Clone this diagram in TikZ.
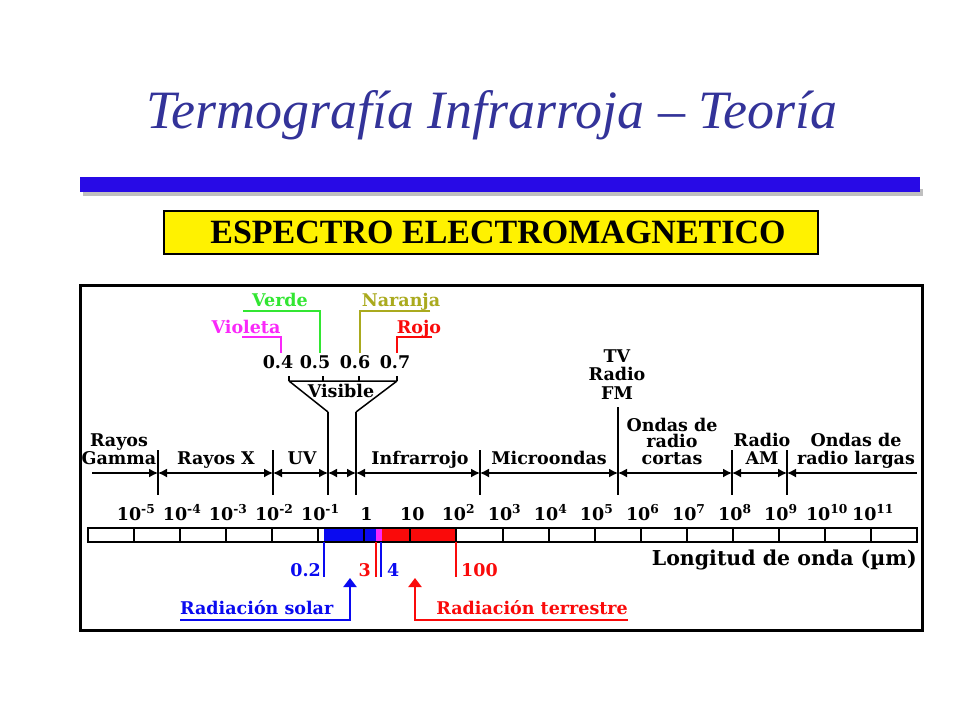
\documentclass[tikz,border=0pt]{standalone}
\usepackage{fontspec}
\setmainfont{Liberation Serif}
\newfontfamily\labfont{DejaVu Serif}
\usepackage{tikz}
\usetikzlibrary{arrows.meta}
\definecolor{titleblue}{RGB}{51,51,153}
\definecolor{barblue}{RGB}{40,10,230}
\definecolor{azul}{RGB}{10,10,240}
\definecolor{rojo}{RGB}{250,10,10}
\definecolor{verde}{RGB}{50,230,50}
\definecolor{naranja}{RGB}{170,170,30}
\definecolor{violeta}{RGB}{250,40,250}

\begin{document}
\begin{tikzpicture}[x=1pt,y=-1pt,>={Latex[length=9pt,width=9pt]},
lab/.style={inner sep=0pt,anchor=base,font=\labfont\bfseries\fontsize{17.5}{18}\selectfont},
tall/.style={lab,align=center,font=\labfont\bfseries\fontsize{17.5}{16.5}\selectfont},
thick line/.style={line width=2pt}]
\useasboundingbox (0,0) rectangle (960,720);
\fill[white] (0,0) rectangle (960,720);
% title and header
\node[inner sep=0pt,anchor=base,text=titleblue,font=\itshape\fontsize{54}{60}\selectfont] (T) at (492,128) {Termografía Infrarroja – Teoría};
\fill[black!25] (83,189) rectangle (923,196);
\fill[barblue] (80,177) rectangle (920,192);
\draw[thick line,fill=yellow] (164,211) rectangle (818,254);
\node[inner sep=0pt,anchor=base,font=\bfseries\fontsize{34}{36}\selectfont] (E) at (498,243) {ESPECTRO ELECTROMAGNETICO};
\draw[line width=3pt] (80,285) rectangle (922,630);

% scale bar
\fill[azul] (324,528) rectangle (376,542);
\fill[violeta] (376,528) rectangle (382,542);
\fill[rojo] (382,528) rectangle (457,542);
\draw[thick line] (88,528) rectangle (917,542);
\foreach \k in {1,...,17}
  \draw[thick line] (88+46.06*\k,528) -- (88+46.06*\k,542);
\foreach \t [count=\k] in {10\textsuperscript{-5},10\textsuperscript{-4},10\textsuperscript{-3},10\textsuperscript{-2},10\textsuperscript{-1},1,10,10\textsuperscript{2},10\textsuperscript{3},10\textsuperscript{4},10\textsuperscript{5},10\textsuperscript{6},10\textsuperscript{7},10\textsuperscript{8},10\textsuperscript{9},10\textsuperscript{10},10\textsuperscript{11}}
  \node[lab] (n\k) at (90+46.06*\k,520) {\t};
\node[lab,anchor=base east,font=\labfont\bfseries\fontsize{20.5}{22}\selectfont] (L) at (917,565) {Longitud de onda (µm)};

% ranges
\foreach \x/\t [count=\i] in {158/450,273/450,328/412,356/412,480/450,618/407,732/450,787/450} {
  \coordinate (u\i) at (\x,\t);
  \coordinate (v\i) at (\x,495);
  \coordinate (m\i) at (\x,473);
  \draw[thick line] (u\i) -- (v\i);
}
\coordinate (m0) at (92,473);
\coordinate (m9) at (917,473);
\path[line width=1.5pt]
(m0) edge[->] (m1)
(m1) edge[<->] (m2)
(m2) edge[<->] (m3)
(m3) edge[<->] (m4)
(m4) edge[<->] (m5)
(m5) edge[<->] (m6)
(m6) edge[<->] (m7)
(m7) edge[<->] (m8)
(m8) edge[<-] (m9);
\node[tall,font=\labfont\bfseries\fontsize{17.5}{18}\selectfont] (gam) at (119,464) {Rayos\\Gamma};
\node[lab] (X) at (216,464) {Rayos X};
\node[lab] (UV) at (302,464) {UV};
\node[lab] (IR) at (420,464) {Infrarrojo};
\node[lab] (MW) at (549,464) {Microondas};
\node[tall] (OC) at (672,464) {Ondas de\\radio\\cortas};
\node[tall,font=\labfont\bfseries\fontsize{17.5}{18}\selectfont] (AM) at (762,464) {Radio\\AM};
\node[tall,font=\labfont\bfseries\fontsize{17.5}{18}\selectfont] (OL) at (856,464) {Ondas de\\radio largas};
\node[tall,font=\labfont\bfseries\fontsize{17.5}{18.5}\selectfont] (TV) at (617,399) {TV\\Radio\\FM};

% visible
\coordinate (b1) at (289,381);
\coordinate (b4) at (397,381);
\draw[line width=1.5pt] (b1) -- (b4) (b1) -- (u3) (b4) -- (u4);
\foreach \x in {289,323,359,397}
  \draw[line width=1.5pt] (\x,376) -- (\x,381);
\node[lab] (vis) at (341,397) {Visible};
\foreach \x/\t [count=\i] in {278/0.4,315/0.5,355/0.6,395/0.7}
  \node[lab] (w\i) at (\x,368) {\t};
\node[lab,text=violeta] (vio) at (246,333) {Violeta};
\node[lab,text=verde] (ver) at (280,306) {Verde};
\node[lab,text=naranja] (nar) at (401,306) {Naranja};
\node[lab,text=rojo] (roj) at (419,333) {Rojo};
\coordinate (c1) at (242,337); \coordinate (d1) at (281,353);
\coordinate (c2) at (243,311); \coordinate (d2) at (320,353);
\coordinate (c3) at (430,311); \coordinate (d3) at (360,353);
\coordinate (c4) at (432,337); \coordinate (d4) at (397,353);
\draw[violeta,line width=1.5pt] (c1) -| (d1);
\draw[verde,line width=1.5pt] (c2) -| (d2);
\draw[naranja,line width=1.5pt] (c3) -| (d3);
\draw[rojo,line width=1.5pt] (c4) -| (d4);

% radiation limits
\coordinate (s1) at (324,542); \coordinate (t1) at (324,577);
\coordinate (s2) at (376,542); \coordinate (t2) at (376,577);
\coordinate (s3) at (381,542); \coordinate (t3) at (381,577);
\coordinate (s4) at (456,542); \coordinate (t4) at (456,577);
\draw[azul,line width=1.5pt] (s1) -- (t1) (s3) -- (t3);
\draw[rojo,line width=1.5pt] (s2) -- (t2) (s4) -- (t4);
\node[lab,anchor=base east,text=azul] (l02) at (321,576) {0.2};
\node[lab,anchor=base east,text=rojo] (l3) at (371,576) {3};
\node[lab,anchor=base west,text=azul] (l4) at (387,576) {4};
\node[lab,anchor=base west,text=rojo] (l100) at (461,576) {100};
\node[lab,anchor=base west,text=azul] (sol) at (180,614) {Radiación solar};
\node[lab,anchor=base east,text=rojo] (ter) at (628,614) {Radiación terrestre};
\coordinate (a1) at (180,620); \coordinate (a2) at (350,578);
\coordinate (r1) at (628,620); \coordinate (r2) at (415,578);
\draw[azul,line width=2.5pt,-{Triangle[length=9pt,width=13pt]}] (a1) -| (a2);
\draw[rojo,line width=2.5pt,-{Triangle[length=9pt,width=13pt]}] (r1) -| (r2);
\end{tikzpicture}
\end{document}
